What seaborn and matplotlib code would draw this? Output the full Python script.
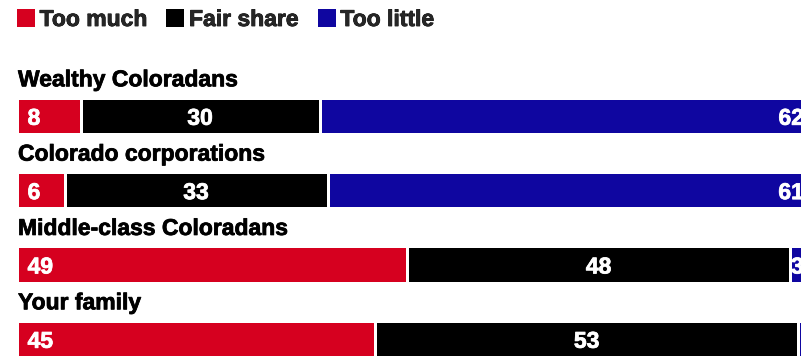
import matplotlib
matplotlib.use("Agg")
import matplotlib.pyplot as plt
import matplotlib.patheffects as pe
import seaborn as sns
import pandas as pd
from matplotlib.patches import Patch

categories = ["Wealthy Coloradans", "Colorado corporations",
              "Middle-class Coloradans", "Your family"]
too_much = [8, 6, 49, 45]
fair_share = [30, 33, 48, 53]
too_little = [62, 61, 3, 2]
series_names = ["Too much", "Fair share", "Too little"]

RED = "#D6001F"
BLACK = "#000000"
BLUE = "#0F06A0"
FONT = "Liberation Sans"
FS = 16.5

df = pd.DataFrame({
    "category": categories,
    "too_much": too_much,
    "fair_share": fair_share,
    "too_little": too_little,
})
df["cum1"] = df["too_much"]
df["cum2"] = df["too_much"] + df["fair_share"]
df["cum3"] = df["cum2"] + df["too_little"]

sns.set_theme(style="white")
plt.rcParams["font.family"] = [FONT, "DejaVu Sans"]

W, H = 801, 356
fig = plt.figure(figsize=(W / 100, H / 100), dpi=100)
# axes extends beyond the right edge (chart is cropped in the reference)
x0_px, width_px = 16.8, 797
ax = fig.add_axes([x0_px / W, 0, width_px / W, 1])

lw = 3.0 * 72 / 100  # 3px white separators
for col, colr in [("cum3", BLUE), ("cum2", BLACK), ("cum1", RED)]:
    sns.barplot(data=df, y="category", x=col, color=colr, orient="h",
                width=0.49, edgecolor="white", linewidth=lw,
                errorbar=None, saturation=1, ax=ax)

unit = 74.33  # px per category
ax.set_xlim(0, 100)
ax.set_ylim(3 + 17.2 / unit, -115.8 / unit)
ax.axis("off")

thick_black = [pe.withStroke(linewidth=0.55, foreground="black")]
thick_white = [pe.withStroke(linewidth=0.55, foreground="white")]
kw = dict(fontsize=FS, fontweight="bold", fontfamily=FONT)

for i, cat in enumerate(categories):
    ax.text(0.15, i - 29.5 / unit, cat, ha="left", va="baseline",
            color="black", path_effects=thick_black, **kw)
    tm, fs_, tl = too_much[i], fair_share[i], too_little[i]
    ax.text(1.35, i, str(tm), ha="left", va="center_baseline",
            color="white", path_effects=thick_white, **kw)
    ax.text(tm + fs_ / 2, i, str(fs_), ha="center", va="center_baseline",
            color="white", path_effects=thick_white, **kw)
    if tl >= 3:
        ax.text(tm + fs_ + tl - 1.25, i, str(tl), ha="right",
                va="center_baseline", color="white", path_effects=thick_white,
                clip_on=False, **kw)

handles = [Patch(facecolor=c, edgecolor="none") for c in (RED, BLACK, BLUE)]
leg = ax.legend(handles, series_names, loc="upper left",
                bbox_to_anchor=(17 / W, 1 - 8 / H), bbox_transform=fig.transFigure,
                ncol=3, frameon=False, borderpad=0, borderaxespad=0,
                handlelength=0.786, handleheight=0.786, handletextpad=0.2,
                columnspacing=0.85, prop={"family": FONT, "weight": "bold", "size": FS})
for t in leg.get_texts():
    t.set_path_effects(thick_black)

fig.savefig("out.png", dpi=100)
